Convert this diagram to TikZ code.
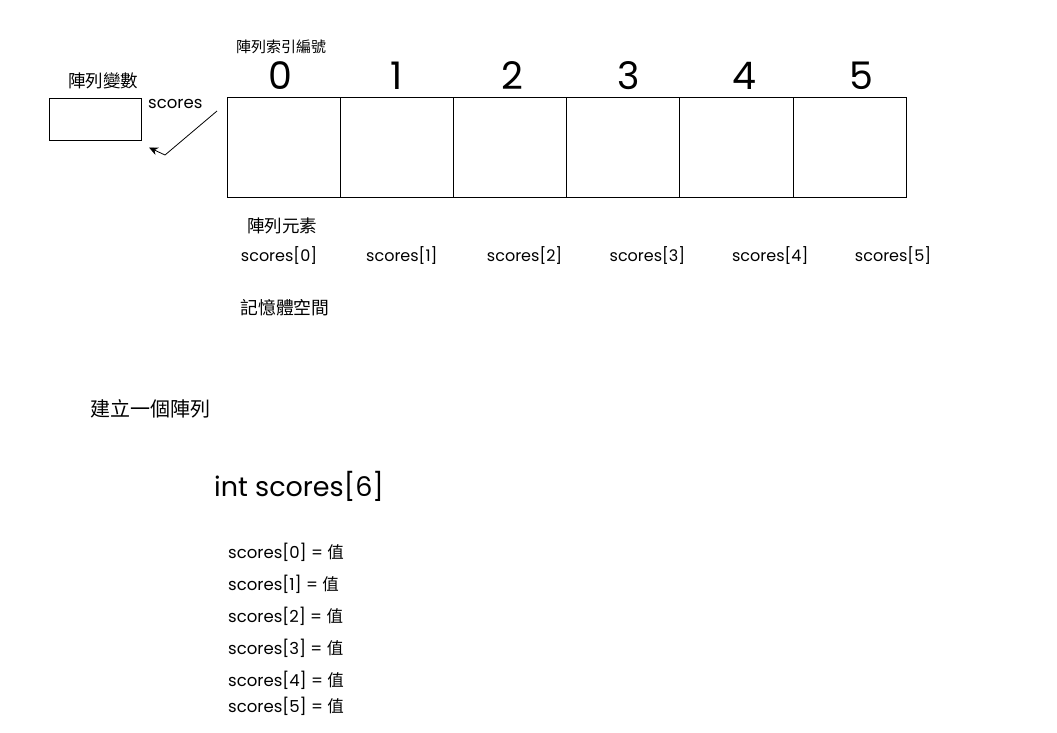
\documentclass[tikz,border=0pt]{standalone}
\usepackage{fontspec}
\setmainfont{Poppins}
\newfontfamily\cjk{Noto Sans CJK TC}
\usetikzlibrary{positioning,arrows.meta}
\tikzset{
  cellbox/.style={draw, line width=0.8pt, minimum width=113.2pt, minimum height=100pt, inner sep=0pt},
  varbox/.style={draw, line width=0.8pt, minimum width=92pt, minimum height=42pt, inner sep=0pt},
  cjklabel/.style={font=\cjk\fontsize{17.5}{20}\selectfont, inner sep=0pt},
  elemlabel/.style={font=\fontsize{16}{19}\selectfont, inner sep=0pt},
}
\begin{document}
\begin{tikzpicture}[x=1pt, y=-1pt]
  \useasboundingbox (0,0) rectangle (1057,732);

  % array variable
  \node [varbox] (var) at (95,119) {};
  \node [cjklabel] (varname) at (103,81) {陣列變數};
  \node [elemlabel, font=\fontsize{16.5}{19}\selectfont, anchor=west] (scoresname) at (148,104) {scores};

  % array cells and index numbers
  \foreach \i in {0,...,5} {
    \node [cellbox] (cell\i) at (283.6+113.2*\i,147) {};
    \node [font=\fontsize{38}{40}\selectfont, inner sep=0pt] (idx\i) at (280+116.2*\i,76) {\i};
  }
  \node [cjklabel, font=\cjk\fontsize{15}{18}\selectfont] (idxname) at (281,47) {陣列索引編號};

  % reference arrow
  \coordinate (refA) at (217,111);
  \coordinate (refB) at (165,155);
  \coordinate (refC) at (149,147.5);
  \draw [line width=0.8pt, -{Stealth[length=9pt,width=8pt]}] (refA) -- (refB) -- (refC);

  % element names
  \node [cjklabel] (elemname) at (282,226) {陣列元素};
  \foreach \i in {0,...,5} {
    \node [elemlabel] (elem\i) at (279+122.8*\i,256) {scores[\i]};
  }
  \node [cjklabel, font=\cjk\fontsize{17.8}{20}\selectfont] (memname) at (285,308) {記憶體空間};

  % declaration
  \node [cjklabel, font=\cjk\fontsize{20}{23}\selectfont] (create) at (150,409) {建立一個陣列};
  \node [font=\fontsize{27}{30}\selectfont, inner sep=0pt, anchor=west] (decl) at (214,486) {int scores[6]};

  % assignments
  \foreach \i/\y in {0/552,1/584,2/616,3/648,4/680,5/706} {
    \node [elemlabel, font=\fontsize{16.5}{19}\selectfont, anchor=west] (assign\i) at (228,\y) {scores[\i] = {\cjk 值}};
  }
\end{tikzpicture}
\end{document}
